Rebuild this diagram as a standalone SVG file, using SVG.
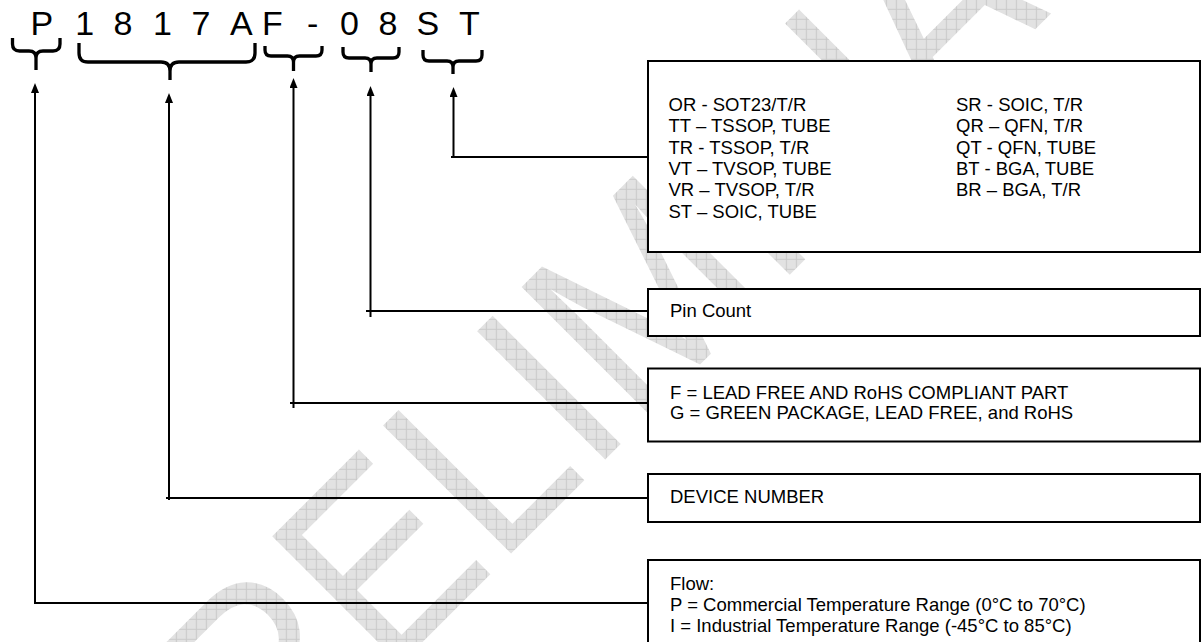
<svg xmlns="http://www.w3.org/2000/svg" width="1202" height="642" viewBox="0 0 1202 642">
  <style>
    .txt { font-family: "Liberation Sans", Arial, sans-serif; font-size: 18.5px; fill: #000; }
    .code { font-family: "Liberation Sans", Arial, sans-serif; font-size: 34px; fill: #000; }
    .box { fill: #fff; stroke: #000; stroke-width: 2; }
    .conn { fill: none; stroke: #000; stroke-width: 2; }
    .brace { fill: none; stroke: #000; stroke-width: 3.3; stroke-linecap: butt; stroke-linejoin: round; }
    .wm { font-family: "Liberation Sans", Arial, sans-serif; font-size: 235px; }
  </style>
  <defs>
    <pattern id="hatch" patternUnits="userSpaceOnUse" width="10" height="10" patternTransform="scale(1,0.8929) rotate(45)">
      <rect width="10" height="10" fill="#e2e2e2"/>
      <path d="M0,0.5H10M0.5,0V10" stroke="#c8c8c8" stroke-width="1"/>
    </pattern>
    <marker id="arrow" markerUnits="userSpaceOnUse" markerWidth="10" markerHeight="8" viewBox="0 0 10 8" refX="6" refY="4" orient="auto">
      <path d="M0,0 L10,4 L0,8 z" fill="#000"/>
    </marker>
  </defs>
  <rect width="1202" height="642" fill="#fff"/>

  <g id="watermark">
    <text class="wm" fill="url(#hatch)" transform="translate(155.8,908.8) rotate(-45) scale(1,1.12)" x="0" y="0">PRELIMINARY</text>
  </g>

  <g id="part-number">
    <text class="code" x="30.6 53 75.2 95 113.5 133 152.9 172 191.5 211 230 253 262 283 307 320 340 360 378.5 398 416.6 440 459" y="35">P 1 8 1 7 A F - 0 8 S T</text>
    <path class="brace" d="M12.5,38 V44 Q12.5,51 19.5,51 H29 Q36,51 36,58 V70 M36,58 Q36,51 43,51 H53 Q60,51 60,44 V38"/>
    <path class="brace" d="M79,43 V53 Q79,62 88,62 H161 Q170,62 170,71 V80 M170,71 Q170,62 179,62 H246 Q255,62 255,53 V43"/>
    <path class="brace" d="M265,46 V50 Q265,56 271,56 H287.5 Q293.5,56 293.5,62 V71 M293.5,62 Q293.5,56 299.5,56 H316 Q322,56 322,50 V46"/>
    <path class="brace" d="M343,47 V52 Q343,58 349,58 H365 Q371,58 371,64 V72 M371,64 Q371,58 377,58 H393 Q399,58 399,52 V47"/>
    <path class="brace" d="M423,50 V55 Q423,61 429,61 H447 Q453,61 453,67 V74 M453,67 Q453,61 459,61 H476 Q482,61 482,55 V50"/>
  </g>

  <g id="connectors">
    <path class="conn" d="M648,157 H451 M453.5,157 V91" marker-end="url(#arrow)"/>
    <path class="conn" d="M648,311 H366 M370.5,317 V90" marker-end="url(#arrow)"/>
    <path class="conn" d="M648,403 H290 M293.5,408 V82" marker-end="url(#arrow)"/>
    <path class="conn" d="M648,498 H166 M169,500 V97" marker-end="url(#arrow)"/>
    <path class="conn" d="M648,603 H34 M35,604 V87" marker-end="url(#arrow)"/>
  </g>

  <g id="box-package">
    <rect class="box" x="648" y="61" width="552" height="191"/>
    <text class="txt" x="668.5" y="111">OR - SOT23/T/R</text>
    <text class="txt" x="668.5" y="132.3">TT – TSSOP, TUBE</text>
    <text class="txt" x="668.5" y="153.5">TR - TSSOP, T/R</text>
    <text class="txt" x="668.5" y="174.8">VT – TVSOP, TUBE</text>
    <text class="txt" x="668.5" y="196">VR – TVSOP, T/R</text>
    <text class="txt" x="668.5" y="217.5">ST – SOIC, TUBE</text>
    <text class="txt" x="956" y="111">SR - SOIC, T/R</text>
    <text class="txt" x="956" y="132.3">QR – QFN, T/R</text>
    <text class="txt" x="956" y="153.5">QT - QFN, TUBE</text>
    <text class="txt" x="956" y="174.8">BT - BGA, TUBE</text>
    <text class="txt" x="956" y="196">BR – BGA, T/R</text>
  </g>

  <g id="box-pincount">
    <rect class="box" x="648" y="289" width="552" height="47"/>
    <text class="txt" x="670" y="316.5">Pin Count</text>
  </g>

  <g id="box-leadfree">
    <rect class="box" x="648" y="368.5" width="552" height="73"/>
    <text class="txt" x="670" y="398.5">F = LEAD FREE AND RoHS COMPLIANT PART</text>
    <text class="txt" x="670" y="419">G = GREEN PACKAGE, LEAD FREE, and RoHS</text>
  </g>

  <g id="box-device">
    <rect class="box" x="648" y="474" width="552" height="48"/>
    <text class="txt" x="670" y="502.5">DEVICE NUMBER</text>
  </g>

  <g id="box-flow">
    <rect class="box" x="648" y="560" width="552" height="100"/>
    <text class="txt" x="670" y="590">Flow:</text>
    <text class="txt" x="670" y="611">P = Commercial Temperature Range (0°C to 70°C)</text>
    <text class="txt" x="670" y="632">I = Industrial Temperature Range (-45°C to 85°C)</text>
  </g>
</svg>
